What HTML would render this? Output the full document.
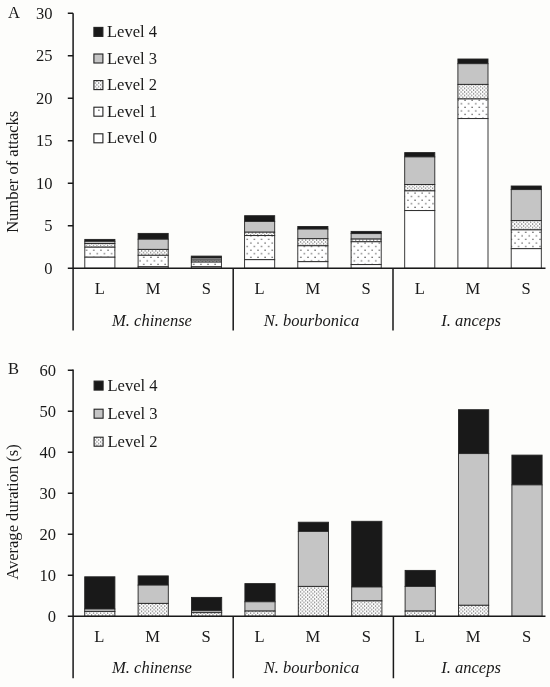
<!DOCTYPE html>
<html lang="en">
<head>
<meta charset="utf-8">
<title>Figure</title>
<style>
html,body{margin:0;padding:0;background:#fdfdfb;}
body{width:550px;height:687px;overflow:hidden;}
svg{display:block;will-change:transform;}
text{font-family:"Liberation Serif","Times New Roman",serif;font-size:16.55px;fill:#191919;}
.i{font-style:italic;font-size:16.55px;}
.m{text-anchor:middle;}
.e{text-anchor:end;}
.ax{stroke:#191919;stroke-width:1.5;fill:none;}
.b{stroke:#242424;stroke-width:0.9;}
.lb{stroke:#222;stroke-width:1.1;}
</style>
</head>
<body>
<svg width="550" height="687" viewBox="0 0 550 687">
<defs>
<pattern id="p2" width="3.57" height="3.57" patternUnits="userSpaceOnUse">
<rect width="3.57" height="3.57" fill="#ffffff"/>
<rect x="0.02" y="2.17" width="1.1" height="1.1" fill="#4a4a4a"/>
<rect x="1.8" y="0.38" width="1.1" height="1.1" fill="#4a4a4a"/>
</pattern>
<pattern id="p1" width="7.14" height="7.14" patternUnits="userSpaceOnUse">
<rect width="7.14" height="7.14" fill="#ffffff"/>
<rect x="3.9" y="3.25" width="1.2" height="1.2" fill="#444"/>
<rect x="0.35" y="6.82" width="1.2" height="0.32" fill="#444"/>
<rect x="0.35" y="0" width="1.2" height="0.88" fill="#444"/>
</pattern>
</defs>
<rect width="550" height="687" fill="#fdfdfb"/>

<g id="panelA">
<rect class="b" x="84.8" y="239.4" width="30.1" height="1.9" fill="#191919"/>
<rect class="b" x="84.8" y="241.3" width="30.1" height="2.2" fill="#c5c5c5"/>
<rect class="b" x="84.8" y="243.5" width="30.1" height="3.7" fill="url(#p2)"/>
<rect class="b" x="84.8" y="247.2" width="30.1" height="10.0" fill="url(#p1)"/>
<rect class="b" x="84.8" y="257.2" width="30.1" height="11.1" fill="#ffffff"/>
<rect class="b" x="138.1" y="233.4" width="30.1" height="5.8" fill="#191919"/>
<rect class="b" x="138.1" y="239.2" width="30.1" height="10.2" fill="#c5c5c5"/>
<rect class="b" x="138.1" y="249.4" width="30.1" height="5.9" fill="url(#p2)"/>
<rect class="b" x="138.1" y="255.3" width="30.1" height="11.5" fill="url(#p1)"/>
<rect class="b" x="138.1" y="266.8" width="30.1" height="1.5" fill="#ffffff"/>
<rect class="b" x="191.3" y="256.1" width="30.1" height="1.9" fill="#191919"/>
<rect class="b" x="191.3" y="258.0" width="30.1" height="2.1" fill="#c5c5c5"/>
<rect class="b" x="191.3" y="260.1" width="30.1" height="2.0" fill="url(#p2)"/>
<rect class="b" x="191.3" y="262.1" width="30.1" height="4.7" fill="url(#p1)"/>
<rect class="b" x="191.3" y="266.8" width="30.1" height="1.5" fill="#ffffff"/>
<rect class="b" x="244.6" y="215.7" width="30.1" height="5.7" fill="#191919"/>
<rect class="b" x="244.6" y="221.4" width="30.1" height="10.8" fill="#c5c5c5"/>
<rect class="b" x="244.6" y="232.2" width="30.1" height="3.4" fill="url(#p2)"/>
<rect class="b" x="244.6" y="235.6" width="30.1" height="24.1" fill="url(#p1)"/>
<rect class="b" x="244.6" y="259.7" width="30.1" height="8.6" fill="#ffffff"/>
<rect class="b" x="297.8" y="226.5" width="30.1" height="2.6" fill="#191919"/>
<rect class="b" x="297.8" y="229.1" width="30.1" height="9.6" fill="#c5c5c5"/>
<rect class="b" x="297.8" y="238.7" width="30.1" height="7.1" fill="url(#p2)"/>
<rect class="b" x="297.8" y="245.8" width="30.1" height="15.9" fill="url(#p1)"/>
<rect class="b" x="297.8" y="261.7" width="30.1" height="6.6" fill="#ffffff"/>
<rect class="b" x="351.1" y="231.4" width="30.1" height="2.2" fill="#191919"/>
<rect class="b" x="351.1" y="233.6" width="30.1" height="5.5" fill="#c5c5c5"/>
<rect class="b" x="351.1" y="239.1" width="30.1" height="2.7" fill="url(#p2)"/>
<rect class="b" x="351.1" y="241.8" width="30.1" height="22.8" fill="url(#p1)"/>
<rect class="b" x="351.1" y="264.6" width="30.1" height="3.7" fill="#ffffff"/>
<rect class="b" x="404.7" y="152.6" width="30.1" height="4.3" fill="#191919"/>
<rect class="b" x="404.7" y="156.9" width="30.1" height="27.6" fill="#c5c5c5"/>
<rect class="b" x="404.7" y="184.5" width="30.1" height="6.4" fill="url(#p2)"/>
<rect class="b" x="404.7" y="190.9" width="30.1" height="19.7" fill="url(#p1)"/>
<rect class="b" x="404.7" y="210.6" width="30.1" height="57.7" fill="#ffffff"/>
<rect class="b" x="457.9" y="59.0" width="30.1" height="4.7" fill="#191919"/>
<rect class="b" x="457.9" y="63.7" width="30.1" height="20.7" fill="#c5c5c5"/>
<rect class="b" x="457.9" y="84.4" width="30.1" height="14.6" fill="url(#p2)"/>
<rect class="b" x="457.9" y="99.0" width="30.1" height="19.6" fill="url(#p1)"/>
<rect class="b" x="457.9" y="118.6" width="30.1" height="149.7" fill="#ffffff"/>
<rect class="b" x="511.2" y="186.0" width="30.1" height="3.6" fill="#191919"/>
<rect class="b" x="511.2" y="189.6" width="30.1" height="31.0" fill="#c5c5c5"/>
<rect class="b" x="511.2" y="220.6" width="30.1" height="9.3" fill="url(#p2)"/>
<rect class="b" x="511.2" y="229.9" width="30.1" height="18.8" fill="url(#p1)"/>
<rect class="b" x="511.2" y="248.7" width="30.1" height="19.6" fill="#ffffff"/>
<path class="ax" d="M73.1 13.3V330.4M67.8 268.3H545.5M233.2 268.3V330.4M393 268.3V330.4"/>
<path class="ax" d="M67.8 225.8H73.1M67.8 183.3H73.1M67.8 140.8H73.1M67.8 98.3H73.1M67.8 55.8H73.1M67.8 13.3H73.1"/>
<text class="e" x="52.6" y="273.6">0</text>
<text class="e" x="52.6" y="231.1">5</text>
<text class="e" x="52.6" y="188.6">10</text>
<text class="e" x="52.6" y="146.1">15</text>
<text class="e" x="52.6" y="103.6">20</text>
<text class="e" x="52.6" y="61.1">25</text>
<text class="e" x="52.6" y="18.6">30</text>
<text x="8" y="17.6">A</text>
<text class="m" transform="translate(18.3 171.8) rotate(-90)">Number of attacks</text>
<rect class="lb" x="93.9" y="27.4" width="9" height="9" fill="#191919"/>
<text x="107.0" y="36.9">Level 4</text>
<rect class="lb" x="93.9" y="54.0" width="9" height="9" fill="#c5c5c5"/>
<text x="107.0" y="63.5">Level 3</text>
<rect class="lb" x="93.9" y="80.6" width="9" height="9" fill="url(#p2)"/>
<text x="107.0" y="90.1">Level 2</text>
<rect class="lb" x="93.9" y="107.2" width="9" height="9" fill="#ffffff"/>
<rect x="98.3" y="109.6" width="1.2" height="1.2" fill="#333"/>
<text x="107.0" y="116.7">Level 1</text>
<rect class="lb" x="93.9" y="133.8" width="9" height="9" fill="#ffffff"/>
<text x="107.0" y="143.3">Level 0</text>
<text class="m" x="99.8" y="294.2">L</text>
<text class="m" x="153.2" y="294.2">M</text>
<text class="m" x="206.4" y="294.2">S</text>
<text class="m" x="259.6" y="294.2">L</text>
<text class="m" x="312.9" y="294.2">M</text>
<text class="m" x="366.2" y="294.2">S</text>
<text class="m" x="419.8" y="294.2">L</text>
<text class="m" x="472.9" y="294.2">M</text>
<text class="m" x="526.2" y="294.2">S</text>
<text class="m i" x="152.0" y="326.0">M. chinense</text>
<text class="m i" x="311.4" y="326.0">N. bourbonica</text>
<text class="m i" x="471.0" y="326.0">I. anceps</text>
</g>
<g id="panelB">
<rect class="b" x="84.7" y="576.8" width="30.2" height="32.2" fill="#191919"/>
<rect class="b" x="84.7" y="609.0" width="30.2" height="2.4" fill="#c5c5c5"/>
<rect class="b" x="84.7" y="611.4" width="30.2" height="4.9" fill="url(#p2)"/>
<rect class="b" x="138.1" y="575.9" width="30.2" height="9.2" fill="#191919"/>
<rect class="b" x="138.1" y="585.1" width="30.2" height="18.3" fill="#c5c5c5"/>
<rect class="b" x="138.1" y="603.4" width="30.2" height="12.9" fill="url(#p2)"/>
<rect class="b" x="191.5" y="597.4" width="30.2" height="13.3" fill="#191919"/>
<rect class="b" x="191.5" y="610.7" width="30.2" height="2.0" fill="#c5c5c5"/>
<rect class="b" x="191.5" y="612.7" width="30.2" height="3.6" fill="url(#p2)"/>
<rect class="b" x="244.9" y="583.6" width="30.2" height="18.2" fill="#191919"/>
<rect class="b" x="244.9" y="601.8" width="30.2" height="9.3" fill="#c5c5c5"/>
<rect class="b" x="244.9" y="611.1" width="30.2" height="5.2" fill="url(#p2)"/>
<rect class="b" x="298.3" y="522.2" width="30.2" height="9.2" fill="#191919"/>
<rect class="b" x="298.3" y="531.4" width="30.2" height="55.0" fill="#c5c5c5"/>
<rect class="b" x="298.3" y="586.4" width="30.2" height="29.9" fill="url(#p2)"/>
<rect class="b" x="351.7" y="521.3" width="30.2" height="65.7" fill="#191919"/>
<rect class="b" x="351.7" y="587.0" width="30.2" height="13.9" fill="#c5c5c5"/>
<rect class="b" x="351.7" y="600.9" width="30.2" height="15.4" fill="url(#p2)"/>
<rect class="b" x="405.1" y="570.4" width="30.2" height="16.0" fill="#191919"/>
<rect class="b" x="405.1" y="586.4" width="30.2" height="24.7" fill="#c5c5c5"/>
<rect class="b" x="405.1" y="611.1" width="30.2" height="5.2" fill="url(#p2)"/>
<rect class="b" x="458.5" y="409.7" width="30.2" height="43.9" fill="#191919"/>
<rect class="b" x="458.5" y="453.6" width="30.2" height="151.7" fill="#c5c5c5"/>
<rect class="b" x="458.5" y="605.3" width="30.2" height="11.0" fill="url(#p2)"/>
<rect class="b" x="511.9" y="455.1" width="30.2" height="29.8" fill="#191919"/>
<rect class="b" x="511.9" y="484.9" width="30.2" height="131.4" fill="#c5c5c5"/>
<path class="ax" d="M73.1 369.6V678.3M67.8 616.3H545.5M233.2 616.3V678.3M393.4 616.3V678.3"/>
<path class="ax" d="M67.8 575.3H73.1M67.8 534.3H73.1M67.8 493.3H73.1M67.8 452.3H73.1M67.8 411.3H73.1M67.8 370.3H73.1"/>
<text class="e" x="56" y="621.6">0</text>
<text class="e" x="56" y="580.6">10</text>
<text class="e" x="56" y="539.6">20</text>
<text class="e" x="56" y="498.6">30</text>
<text class="e" x="56" y="457.6">40</text>
<text class="e" x="56" y="416.6">50</text>
<text class="e" x="56" y="375.6">60</text>
<text x="8" y="373.6">B</text>
<text class="m" transform="translate(18 512) rotate(-90)">Average duration (s)</text>
<rect class="lb" x="94.1" y="381.1" width="9" height="9" fill="#191919"/>
<text x="107.5" y="390.6">Level 4</text>
<rect class="lb" x="94.1" y="409.2" width="9" height="9" fill="#c5c5c5"/>
<text x="107.5" y="418.7">Level 3</text>
<rect class="lb" x="94.1" y="437.2" width="9" height="9" fill="url(#p2)"/>
<text x="107.5" y="446.7">Level 2</text>
<text class="m" x="99.3" y="641.6">L</text>
<text class="m" x="152.7" y="641.6">M</text>
<text class="m" x="206.1" y="641.6">S</text>
<text class="m" x="259.5" y="641.6">L</text>
<text class="m" x="312.9" y="641.6">M</text>
<text class="m" x="366.3" y="641.6">S</text>
<text class="m" x="419.7" y="641.6">L</text>
<text class="m" x="473.1" y="641.6">M</text>
<text class="m" x="526.5" y="641.6">S</text>
<text class="m i" x="152.0" y="673.4">M. chinense</text>
<text class="m i" x="311.4" y="673.4">N. bourbonica</text>
<text class="m i" x="471.0" y="673.4">I. anceps</text>
</g>
</svg>
</body>
</html>
